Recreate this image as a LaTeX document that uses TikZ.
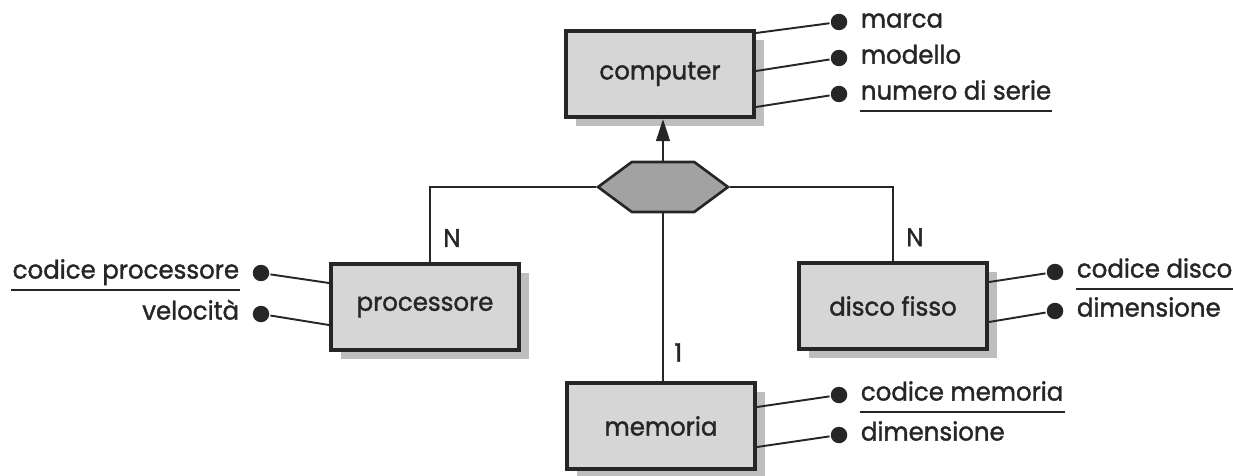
\documentclass[tikz,border=0pt]{standalone}
\usepackage{fontspec}
\setmainfont{Poppins}[FakeBold=1.4, FakeStretch=0.96]
\usetikzlibrary{arrows.meta, positioning, shapes.symbols, shadows}
\definecolor{cfill}{HTML}{D6D6D6}
\definecolor{cshadow}{HTML}{BEBEBE}
\definecolor{chub}{HTML}{A2A2A2}
\definecolor{cink}{HTML}{262626}
\tikzset{
  every picture/.style={font=\fontsize{14.5}{17}\selectfont, text=cink, line width=1.5pt},
  entity/.style={draw=cink, fill=cfill, line width=2.3pt, minimum width=3.76cm, minimum height=1.72cm,
    drop shadow={shadow xshift=0.2cm, shadow yshift=-0.18cm, fill=cshadow, opacity=1}},
  hub/.style={signal, signal to=west and east, signal pointer angle=73, draw=cink, fill=chub,
    line width=1.5pt, minimum width=2.6cm, minimum height=1cm, inner sep=0pt},
  link/.style={draw=cink, line width=1.5pt},
  card/.style={inner sep=0pt},
  attrdot/.style={circle, fill=cink, inner sep=0pt, minimum size=0.33cm},
  attrline/.style={draw=cink, line width=1.1pt},
  attrtext/.style={inner sep=0pt, text height=2.2ex, text depth=0.2cm},
  keyline/.style={draw=cink, line width=1.1pt},
}
\begin{document}
\begin{tikzpicture}[x=0.02cm, y=-0.02cm]
  \useasboundingbox (0,0) rectangle (1233,476);
  \node[entity] (computer) at (660,74) {computer};
  \node[entity] (processore) at (425,307) {processore};
  \node[entity] (disco) at (893,306) {disco fisso};
  \node[entity] (memoria) at (661,426) {memoria};
  \node[hub] (gen) at (663,187) {};

  \draw[link] (gen.west) -| ([xshift=0.1cm]processore.north) node[card, pos=0.84, right=0.24cm] {N};
  \draw[link] (gen.east) -| (disco.north) node[card, pos=0.84, right=0.24cm] {N};
  \draw[link] (gen.south) -- (gen.south |- memoria.north) node[card, pos=0.83, right=0.2cm] {1};
  \draw[link, -{Triangle[length=0.44cm, width=0.27cm]}] (gen.north) -- (gen.north |- computer.south);

  \node[attrdot] (marca) at (839,22) {};
  \node[attrdot] (modello) at (839,58) {};
  \node[attrdot] (nserie) at (839,94) {};
  \node[attrtext, right=0.22cm of marca] (marcat) {marca};
  \node[attrtext, right=0.22cm of modello] (modellot) {modello};
  \node[attrtext, right=0.22cm of nserie] (nseriet) {numero di serie};
  \draw[attrline] ([yshift=0.82cm]computer.east) -- (marca);
  \draw[attrline] ([yshift=0.06cm]computer.east) -- (modello);
  \draw[attrline] ([yshift=-0.66cm]computer.east) -- (nserie);
  \draw[keyline] (nseriet.south west) -- (nseriet.south east);

  \node[attrdot] (codproc) at (261,273) {};
  \node[attrdot] (velocita) at (261,314) {};
  \node[attrtext, left=0.22cm of codproc] (codproct) {codice processore};
  \node[attrtext, left=0.22cm of velocita] (velocitat) {velocità};
  \draw[attrline] ([yshift=0.48cm]processore.west) -- (codproc);
  \draw[attrline] ([yshift=-0.36cm]processore.west) -- (velocita);
  \draw[keyline] (codproct.south west) -- (codproct.south east);

  \node[attrdot] (coddisco) at (1055,272) {};
  \node[attrdot] (dimdisco) at (1055,311) {};
  \node[attrtext, right=0.22cm of coddisco] (coddiscot) {codice disco};
  \node[attrtext, right=0.22cm of dimdisco] (dimdiscot) {dimensione};
  \draw[attrline] ([yshift=0.48cm]disco.east) -- (coddisco);
  \draw[attrline] ([yshift=-0.32cm]disco.east) -- (dimdisco);
  \draw[keyline] (coddiscot.south west) -- (coddiscot.south east);

  \node[attrdot] (codmem) at (839,395) {};
  \node[attrdot] (dimmem) at (839,435) {};
  \node[attrtext, right=0.22cm of codmem] (codmemt) {codice memoria};
  \node[attrtext, right=0.22cm of dimmem] (dimmemt) {dimensione};
  \draw[attrline] ([yshift=0.38cm]memoria.east) -- (codmem);
  \draw[attrline] ([yshift=-0.42cm]memoria.east) -- (dimmem);
  \draw[keyline] (codmemt.south west) -- (codmemt.south east);
\end{tikzpicture}
\end{document}
